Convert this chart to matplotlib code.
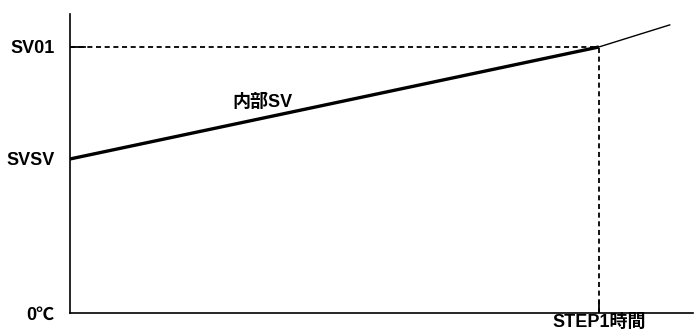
import matplotlib.pyplot as plt
import matplotlib as mpl

mpl.rcParams["font.family"] = ["Liberation Sans", "Noto Sans CJK JP", "DejaVu Sans"]

# values (SV01 = 100, STEP1 time = 1)
time = [0.0, 1.0, 1.134]
sv = [57.9, 100.0, 108.3]
ytick_vals = [0.0, 57.9, 100.0]
ytick_labels = ["0℃", "SVSV", "SV01"]
xtick_vals = [1.0]
xtick_labels = ["STEP1時間"]
line_label = "内部SV"

fig = plt.figure(figsize=(6.99, 3.36), dpi=100)
ax = fig.add_axes([70 / 699, 23 / 336, 623 / 699, 299 / 336])
ax.set_xlim(0, 1.178)
ax.set_ylim(0, 112.4)

for s in ["top", "right"]:
    ax.spines[s].set_visible(False)
for s in ["left", "bottom"]:
    ax.spines[s].set_linewidth(1.2)

ax.set_yticks(ytick_vals)
ax.set_yticklabels(ytick_labels, fontsize=13, fontweight="bold")
ax.set_xticks(xtick_vals)
ax.set_xticklabels(xtick_labels, fontsize=13, fontweight="bold")
ax.tick_params(axis="y", length=0, pad=11)
ax.tick_params(axis="x", length=0, pad=1)

# internal SV ramp and the continuation
ax.plot(time[:2], sv[:2], color="black", linewidth=2.4, solid_capstyle="butt")
ax.plot(time[1:], sv[1:], color="black", linewidth=1.0)

# dashed guides
ax.plot([0, time[1]], [sv[1], sv[1]], color="black", linewidth=1.3,
        linestyle=(0, (2.8, 2.0)))
ax.plot([time[1], time[1]], [0, sv[1]], color="black", linewidth=1.3,
        linestyle=(0, (2.8, 2.0)))
ax.plot([0, 0.028], [sv[1], sv[1]], color="black", linewidth=1.3)
ax.plot([time[1], time[1]], [0, 4.5], color="black", linewidth=1.3)

ax.text(0.308, 79.0, line_label, fontsize=13, fontweight="bold",
        ha="left", va="center")

fig.savefig("out.png", dpi=100)
